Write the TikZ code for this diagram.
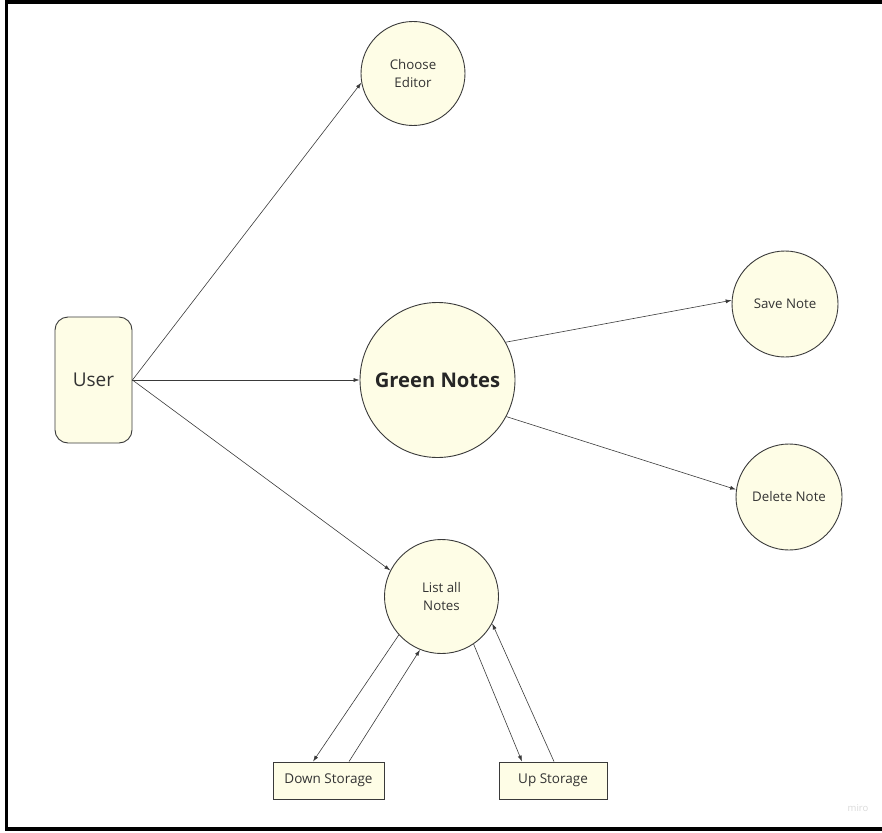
\documentclass[tikz,border=0pt]{standalone}
\usepackage{fontspec}
\setmainfont{Open Sans}
\usetikzlibrary{arrows.meta}
\definecolor{fillc}{HTML}{FEFDE6}
\definecolor{linec}{HTML}{3A3A3A}
\definecolor{textc}{HTML}{333333}
\tikzset{
  proc/.style={circle, draw=linec, fill=fillc, line width=0.9pt, inner sep=0pt, text=textc, font=\fontsize{13.3}{18.5}\selectfont, align=center},
  store/.style={rectangle, draw=linec, fill=fillc, line width=0.9pt, inner sep=0pt, text=textc, font=\fontsize{13.5}{15}\selectfont, minimum height=37pt},
  flow/.style={draw=linec, line width=0.6pt, -{Latex[length=6pt,width=4pt]}}
}
\begin{document}
\begin{tikzpicture}[x=1pt,y=-1pt]
\useasboundingbox (0,0) rectangle (882,832);
\begin{scope}
\clip (0,0) rectangle (882,832);
\draw[black, line width=3.6pt] (6.5,2) rectangle (900,829);
\end{scope}
% nodes
\node[draw=linec, fill=fillc, line width=0.9pt, rounded corners=13pt, minimum width=77pt, minimum height=126pt, inner sep=0pt, text=textc, font=\fontsize{19}{22}\selectfont] (user) at (93.5,380) {User};
\node[proc, minimum size=104pt] (editor) at (413,73.5) {Choose\\Editor};
\node[proc, minimum size=155pt, font=\fontsize{20.2}{24}\selectfont\bfseries, text=black!85] (green) at (437.5,380) {Green Notes};
\node[proc, minimum size=106pt] (save) at (785,304) {Save Note};
\node[proc, minimum size=106pt] (delete) at (789,497) {Delete Note};
\node[proc, minimum size=114pt] (list) at (441.5,596.5) {List all\\Notes};
\node[store, minimum width=111pt] (down) at (328.5,780.5) {Down Storage};
\node[store, minimum width=108pt] (up) at (553,780.5) {Up Storage};
\node[text=black!15, font=\fontsize{9.5}{10}\selectfont] (miro) at (858,808) {miro};
% connectors
\draw[flow] (user.east) -- (editor.190);
\draw[flow] (user.east) -- (green.west);
\draw[flow] (user.east) -- (list.153);
\draw[flow] (green.29) -- (save.176);
\draw[flow] (green.-28) -- (delete.172);
\draw[flow] (list.222) -- ([xshift=-15.5pt]down.north);
\draw[flow] ([xshift=20.5pt]down.north) -- (list.248);
\draw[flow] (list.304) -- ([xshift=-31pt]up.north);
\draw[flow] ([xshift=1pt]up.north) -- (list.332);
\end{tikzpicture}
\end{document}
